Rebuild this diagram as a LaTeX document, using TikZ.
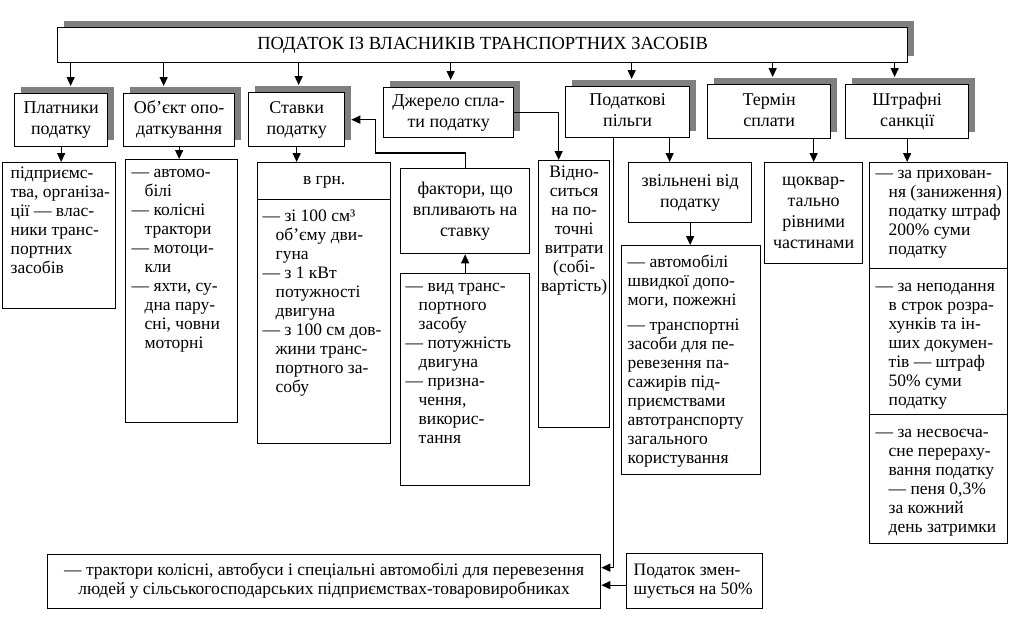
\documentclass[tikz,border=0pt]{standalone}
\usepackage{fontspec}
\setmainfont{Liberation Serif}
\usetikzlibrary{arrows.meta,calc,shadows}
\newcommand\fs{\fontsize{17.5}{19}\selectfont}
\newcommand\fh{\fontsize{18}{21}\selectfont}
\newcommand\ft{\fontsize{18.5}{21}\selectfont}
\newcommand\lft[1]{\begin{tabular}[t]{@{}l@{}}#1\end{tabular}}
\newcommand\ctr[1]{\begin{tabular}[t]{@{}c@{}}#1\end{tabular}}
\newcommand\ii{\hspace*{13pt}}
\newcommand\mkbox[9]{%
  \pgfmathsetmacro\mybw{#5-#3}%
  \pgfmathsetmacro\mybh{#6-#4}%
  \node[#1] (#2) at (#3,#4) {\parbox[c][\mybh pt][#7]{\mybw pt}{\vspace*{#8pt}#9}};%
}
\tikzset{
  bx/.style={draw, line width=1.3pt, anchor=north west, inner sep=0pt, fill=white, font=\fs},
  sbx/.style={bx, font=\fh, general shadow={fill=black!50, shadow xshift=6pt, shadow yshift=7pt}},
  arr/.style={line width=1.3pt, -{Triangle[length=9pt,width=8pt]}}
}
\begin{document}
\begin{tikzpicture}[x=1pt,y=-1pt]
\fill[white] (0,0) rectangle (1022,619);
\useasboundingbox (0,0) rectangle (1022,619);
% top
\mkbox{sbx, font=\ft}{top}{57}{27}{907}{62}{c}{0}{\centering ПОДАТОК ІЗ ВЛАСНИКІВ ТРАНСПОРТНИХ ЗАСОБІВ}
% level 2
\mkbox{sbx}{plat}{14}{93}{107}{146}{c}{0}{\centering\ctr{Платники\\податку}}
\mkbox{sbx}{obj}{123}{93}{234}{146}{c}{0}{\centering\ctr{Об’єкт опо-\\даткування}}
\mkbox{sbx}{stav}{248}{92}{344}{146}{c}{0}{\centering\ctr{Ставки\\податку}}
\mkbox{sbx}{dzh}{383}{87}{513}{137}{c}{0}{\centering\ctr{Джерело спла-\\ти податку}}
\mkbox{sbx}{pilg}{565}{86}{689}{137}{c}{0}{\centering\ctr{Податкові\\пільги}}
\mkbox{sbx}{term}{707}{84}{830}{138}{c}{0}{\centering\ctr{Термін\\сплати}}
\mkbox{sbx}{shtr}{845}{84}{968}{138}{c}{0}{\centering\ctr{Штрафні\\санкції}}
% level 3
\mkbox{bx}{platB}{2}{162}{115}{308}{t}{3}{\hspace*{8pt}\lft{підприємс-\\тва, організа-\\ції — влас-\\ники транс-\\портних\\засобів}}
\mkbox{bx}{objB}{125}{159}{237}{422}{t}{5}{\hspace*{6pt}\lft{— автомо-\\\ii білі\\— колісні\\\ii трактори\\— мотоци-\\\ii кли\\— яхти, су-\\\ii дна пару-\\\ii сні, човни\\\ii моторні}}
\mkbox{bx}{stavA}{257}{162}{390}{199}{c}{0}{\centering\ctr{в грн.}}
\mkbox{bx}{stavB}{257}{199}{390}{443}{t}{9}{\hspace*{5pt}\lft{— зі 100 см³\\\ii об’єму дви-\\\ii гуна\\— з 1 кВт\\\ii потужності\\\ii двигуна\\— з 100 см дов-\\\ii жини транс-\\\ii портного за-\\\ii собу}}
\mkbox{bx, font=\fh}{fakt}{400}{168}{529}{253}{c}{0}{\centering\ctr{фактори, що\\впливають на\\ставку}}
\mkbox{bx}{faktB}{400}{273}{529}{485}{t}{5}{\hspace*{5pt}\lft{— вид транс-\\\ii портного\\\ii засобу\\— потужність\\\ii двигуна\\— призна-\\\ii чення,\\\ii викорис-\\\ii тання}}
\mkbox{bx}{vidn}{538}{160}{609}{427}{t}{4}{\centering\ctr{Відно-\\ситься\\на по-\\точні\\витрати\\(собі-\\вартість)}}
\mkbox{bx, font=\fh}{zvil}{628}{162}{751}{222}{c}{0}{\centering\ctr{звільнені від\\податку}}
\mkbox{bx}{zvilB}{621}{245}{760}{474}{t}{9}{\hspace*{6pt}\lft{— автомобілі\\швидкої допо-\\моги, пожежні\\[6pt]— транспортні\\засоби для пе-\\ревезення па-\\сажирів під-\\приємствами\\автотранспорту\\загального\\користування}}
\mkbox{bx, font=\fh}{kvart}{764}{162}{862}{263}{c}{0}{\centering\ctr{щоквар-\\тально\\рівними\\частинами}}
\mkbox{bx}{shA}{869}{162}{1007}{268}{t}{3}{\hspace*{6pt}\lft{— за прихован-\\\ii ня (заниження)\\\ii податку штраф\\\ii 200\% суми\\\ii податку}}
\mkbox{bx}{shB}{869}{268}{1007}{414}{t}{10}{\hspace*{6pt}\lft{— за неподання\\\ii в строк розра-\\\ii хунків та ін-\\\ii ших докумен-\\\ii тів — штраф\\\ii 50\% суми\\\ii податку}}
\mkbox{bx}{shC}{869}{414}{1007}{543}{t}{10}{\hspace*{6pt}\lft{— за несвоєча-\\\ii сне перераху-\\\ii вання податку\\\ii — пеня 0,3\%\\\ii за кожний\\\ii день затримки}}
\mkbox{bx}{botL}{47}{554}{600}{608}{c}{0}{\centering\ctr{— трактори колісні, автобуси і спеціальні автомобілі для перевезення\\людей у сільськогосподарських підприємствах-товаровиробниках}}
\mkbox{bx}{botR}{626}{553}{762}{608}{c}{0}{\hspace*{7pt}\lft{Податок змен-\\шується на 50\%}}
% arrows from top
\draw[arr] ($(top.south -| plat.north)+(9.5,0)$) -- ($(plat.north)+(9.5,-7)$);
\draw[arr] ($(top.south -| obj.north)+(-15.5,0)$) -- ($(obj.north)+(-15.5,-7)$);
\draw[arr] ($(top.south -| stav.north)+(2,0)$) -- ($(stav.north)+(2,-7)$);
\draw[arr] ($(top.south -| dzh.north)+(2,0)$) -- ($(dzh.north)+(2,-7)$);
\draw[arr] ($(top.south -| pilg.north)+(4,0)$) -- ($(pilg.north)+(4,-7)$);
\draw[arr] ($(top.south -| term.north)+(3.5,0)$) -- ($(term.north)+(3.5,-7)$);
\draw[arr] ($(top.south -| shtr.north)+(-12.5,0)$) -- ($(shtr.north)+(-12.5,-7)$);
% level 2 to level 3
\draw[arr] (plat.south) -- (plat.south |- platB.north);
\draw[arr] (obj.south) -- (obj.south |- objB.north);
\draw[arr] (stav.south) -- (stav.south |- stavA.north);
\draw[arr] (fakt.north) -- ++(0,-15) -- ++(-89.5,0) |- ([xshift=6pt]stav.east);
\draw[arr] (faktB.north) -- (fakt.south);
\draw[arr] (dzh.east) -| ($(vidn.north)+(-15.5,0)$);
\draw[arr] ($(pilg.south)+(42,0)$) -- ($(pilg.south |- zvil.north)+(42,0)$);
\draw[arr] (zvil.south) -- (zvil.south |- zvilB.north);
\draw[arr] ($(pilg.south)+(-14,0)$) |- ([yshift=14pt]botL.east);
\draw[arr] ($(botR.west)+(0,4)$) -- ($(botR.west -| botL.east)+(0,4)$);
\draw[arr] (kvart.north |- term.south) -- (kvart.north);
\draw[arr] (shtr.south) -- (shtr.south |- shA.north);
\end{tikzpicture}
\end{document}
